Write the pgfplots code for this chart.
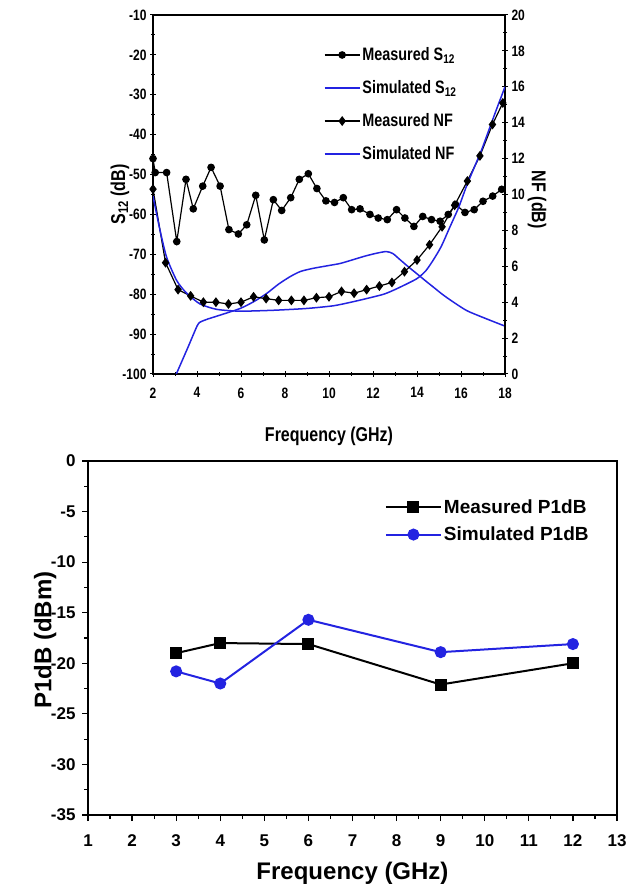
\documentclass[border=0pt]{standalone}
\usepackage{pgfplots}
\pgfplotsset{compat=1.18}
\usepackage{fontspec}
\setmainfont{Liberation Sans}
\newfontfamily\narrow[FakeStretch=0.8]{Liberation Sans}
\definecolor{myblue}{RGB}{35,35,225}

\begin{document}
\begin{tikzpicture}
\path[use as bounding box] (0,0) rectangle (640pt,886pt);

% ---------------- top chart, left axis (S12) ----------------
\begin{axis}[
 at={(153pt,512pt)}, anchor=south west,
 scale only axis, width=352pt, height=359pt,
 xmin=2, xmax=18, ymin=-100, ymax=-10,
 xtick={2,4,...,18}, ytick={-100,-90,...,-10},
 minor x tick num=1, minor y tick num=1,
 xtick pos=left, ytick pos=left,
 tick align=center,
 major tick length=6pt, minor tick length=4pt,
 every tick/.style={black, line width=1pt},
 axis line style={line width=1.2pt},
 /pgf/number format/assume math mode=true,
 ticklabel style={font=\narrow\bfseries\fontsize{15}{17}\selectfont},
 xticklabel style={yshift=-7pt},
 xlabel={Frequency (GHz)},
 ylabel={S\textsubscript{12} (dB)},
 label style={font=\narrow\bfseries\fontsize{20}{22}\selectfont},
 xlabel style={at={(axis description cs:0.5,-0.175)}, anchor=center},
 ylabel style={at={(axis description cs:-0.094,0.5)}, anchor=center},
]
% Measured S12
\addplot[black, line width=1.2pt, mark=*, mark size=3.2pt] coordinates {
(2.0,-46) (2.1,-49.5) (2.62,-49.5) (3.08,-66.8) (3.5,-51.2) (3.83,-58.6)
(4.26,-52.9) (4.64,-48.2) (5.05,-52.9) (5.45,-63.8) (5.88,-64.9) (6.26,-62.6)
(6.67,-55.2) (7.06,-66.4) (7.47,-56.3) (7.85,-59) (8.26,-55.8) (8.65,-51.2)
(9.06,-49.8) (9.45,-53.5) (9.86,-56.6) (10.25,-57) (10.65,-55.8) (11.03,-58.8)
(11.41,-58.6) (11.86,-60) (12.24,-60.9) (12.65,-61.3) (13.07,-58.8) (13.45,-60.9)
(13.86,-63) (14.26,-60.5) (14.66,-61.3) (15.05,-61.7) (15.42,-60) (15.75,-57.5)
(16.18,-59.5) (16.6,-58.8) (17.0,-56.7) (17.44,-55.4) (17.85,-53.7)
};
% Simulated S12
\addplot[myblue, line width=1.5pt, smooth, tension=0.4] coordinates {
(3.06,-100) (3.59,-93.3) (4.0,-88) (4.14,-87) (4.5,-86.2) (4.9,-85.5)
(5.95,-83.6) (6.6,-81.8) (7.17,-79.8) (7.7,-77.5) (8.23,-75.6) (8.7,-74.3)
(9.29,-73.5) (10.0,-72.8) (10.5,-72.3) (11.0,-71.5) (11.6,-70.5) (12.1,-69.8)
(12.6,-69.3) (12.9,-69.8) (13.2,-71.2) (13.6,-73.1) (13.98,-74.8) (14.4,-76.7)
(14.74,-78.2) (15.1,-79.8) (15.5,-81.4) (16.26,-84.1) (17.17,-86.2) (18.0,-88.0)
};
\end{axis}

% ---------------- top chart, right axis (NF) ----------------
\begin{axis}[
 at={(153pt,512pt)}, anchor=south west,
 scale only axis, width=352pt, height=359pt,
 xmin=2, xmax=18, ymin=0, ymax=20,
 hide x axis, axis y line*=right,
 ytick={0,2,...,20}, minor y tick num=1,
 tick align=center,
 major tick length=6pt, minor tick length=4pt,
 every tick/.style={black, line width=1pt},
 axis line style={line width=1.2pt},
 /pgf/number format/assume math mode=true,
 ticklabel style={font=\narrow\bfseries\fontsize{15}{17}\selectfont},
 ylabel={NF (dB)},
 label style={font=\narrow\bfseries\fontsize{20}{22}\selectfont},
 ylabel style={at={(axis description cs:1.091,0.485)}, anchor=center, rotate=180},
 legend image code/.code={\draw[mark repeat=2,mark phase=2,#1] plot coordinates {(0pt,0pt) (17.5pt,0pt) (35pt,0pt)};},
 legend style={draw=none, fill=none, at={(axis description cs:0.485,0.915)}, anchor=north west,
   font=\narrow\bfseries\fontsize{18}{20}\selectfont, row sep=14.5pt, inner sep=0pt},
 legend cell align=left,
]
\addlegendimage{draw=black, line width=1.2pt, mark=*, mark size=3.2pt, mark options={fill=black}}
\addlegendentry{Measured S\textsubscript{12}}
\addlegendimage{draw=myblue, color=myblue, line width=1.5pt, mark=none}
\addlegendentry{Simulated S\textsubscript{12}}
% Measured NF
\addplot[black, line width=1.2pt, mark=diamond*, mark size=4pt] coordinates {
(2.0,10.3) (2.57,6.2) (3.14,4.7) (3.71,4.35) (4.29,4.0) (4.86,4.0) (5.43,3.9)
(6.0,4.0) (6.57,4.3) (7.14,4.2) (7.71,4.1) (8.29,4.1) (8.86,4.1) (9.43,4.25)
(10.0,4.3) (10.57,4.6) (11.14,4.5) (11.71,4.7) (12.29,4.9) (12.86,5.1) (13.43,5.7)
(14.0,6.35) (14.57,7.2) (15.14,8.2) (15.71,9.4) (16.29,10.75) (16.86,12.15)
(17.43,13.9) (17.9,15.1)
};
\addlegendentry{Measured NF}
% Simulated NF
\addplot[myblue, line width=1.5pt, smooth, tension=0.4] coordinates {
(2.0,9.9) (2.15,9.0) (2.32,8.0) (2.62,6.5) (3.08,5.2) (3.53,4.5) (4.14,3.9)
(4.9,3.6) (5.95,3.5) (7.47,3.55) (8.98,3.65) (10.2,3.8) (11.0,4.0) (11.7,4.2)
(12.5,4.45) (13.08,4.75) (13.98,5.3) (14.4,5.75) (14.74,6.35) (15.1,7.1)
(15.5,8.2) (15.9,9.3) (16.26,10.5) (16.6,11.5) (16.94,12.5) (17.3,13.7)
(17.6,14.7) (18.0,16.0)
};
\addlegendentry{Simulated NF}
\end{axis}

% ---------------- bottom chart (P1dB) ----------------
\begin{axis}[
 at={(88pt,71pt)}, anchor=south west,
 scale only axis, width=529pt, height=354pt,
 xmin=1, xmax=13, ymin=-35, ymax=0,
 xtick={1,...,13}, ytick={-35,-30,...,0},
 minor x tick num=1, minor y tick num=1,
 xtick pos=left, ytick pos=left,
 tick align=outside,
 major tick length=6pt, minor tick length=4pt,
 every tick/.style={black, line width=1.2pt},
 axis line style={line width=1.6pt},
 /pgf/number format/assume math mode=true,
 ticklabel style={font=\bfseries\fontsize{17}{19}\selectfont},
 xticklabel style={yshift=-10pt},
 yticklabel style={xshift=-3pt},
 xlabel={Frequency (GHz)},
 ylabel={P1dB (dBm)},
 label style={font=\bfseries\fontsize{24}{26}\selectfont},
 xlabel style={at={(axis description cs:0.5,-0.165)}, anchor=center},
 ylabel style={at={(axis description cs:-0.081,0.494)}, anchor=center},
 legend image code/.code={\draw[mark repeat=2,mark phase=2,#1] plot coordinates {(0pt,0pt) (27.5pt,0pt) (55pt,0pt)};},
 legend style={draw=none, fill=none, at={(axis description cs:0.561,0.897)}, anchor=north west,
   font=\bfseries\fontsize{19}{21}\selectfont, row sep=8pt, inner sep=0pt},
 legend cell align=left,
]
\addplot[black, line width=2pt, mark=square*, mark size=5pt] coordinates {
(3,-19) (4,-18) (6,-18.1) (9,-22.1) (12,-20)
};
\addlegendentry{Measured P1dB}
\addplot[myblue, line width=2pt, mark=*, mark size=5pt] coordinates {
(3,-20.8) (4,-22) (6,-15.7) (9,-18.9) (12,-18.1)
};
\addlegendentry{Simulated P1dB}
\end{axis}
\end{tikzpicture}
\end{document}
